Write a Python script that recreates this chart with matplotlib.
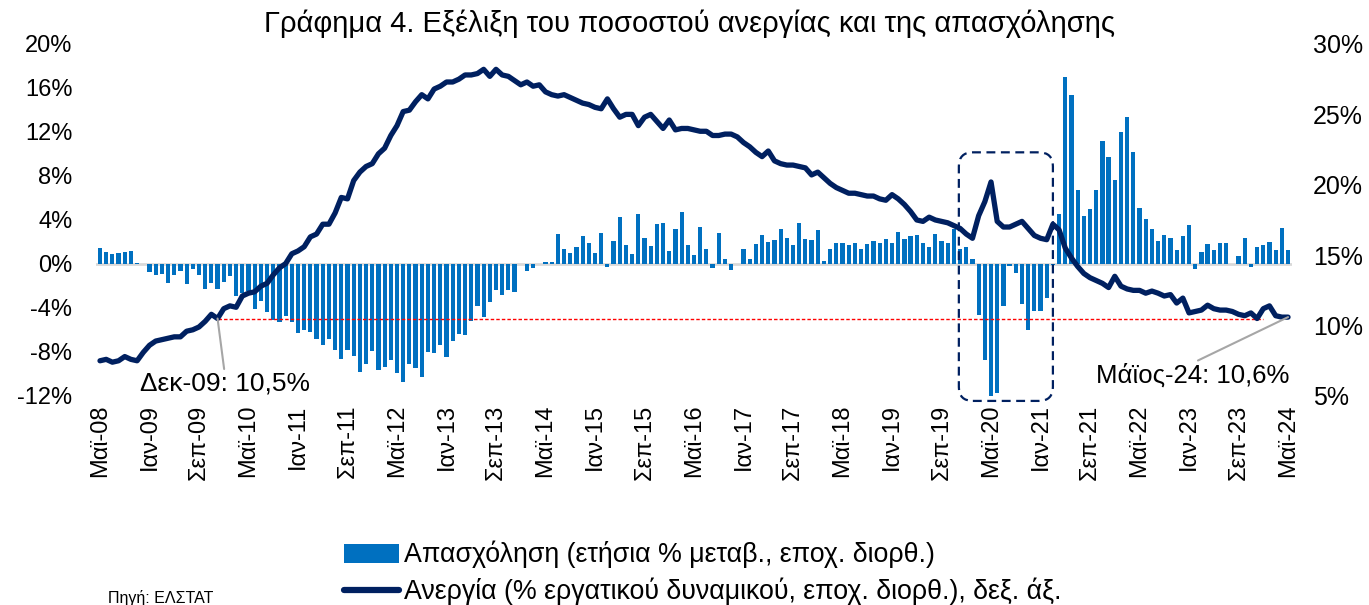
import numpy as np
import matplotlib.pyplot as plt
from matplotlib.patches import Patch, FancyBboxPatch
from matplotlib.lines import Line2D
from matplotlib.transforms import IdentityTransform

plt.rcParams['font.family'] = ['Liberation Sans', 'DejaVu Sans']

# μηνιαία στοιχεία Μάιος 2008 - Μάιος 2024
tick_labels = ['Μαϊ-08', 'Ιαν-09', 'Σεπ-09', 'Μαϊ-10', 'Ιαν-11', 'Σεπ-11', 'Μαϊ-12',
               'Ιαν-13', 'Σεπ-13', 'Μαϊ-14', 'Ιαν-15', 'Σεπ-15', 'Μαϊ-16', 'Ιαν-17',
               'Σεπ-17', 'Μαϊ-18', 'Ιαν-19', 'Σεπ-19', 'Μαϊ-20', 'Ιαν-21', 'Σεπ-21',
               'Μαϊ-22', 'Ιαν-23', 'Σεπ-23', 'Μαϊ-24']

# απασχόληση, ετήσια % μεταβολή (αριστερός άξονας)
employment = [1.45, 1.06, 0.94, 1.0, 1.06, 1.15, 0.12, 0.0, -0.75, -1.0, -0.9, -1.7,
              -1.0, -0.6, -1.8, -0.45, -1.0, -2.3, -1.7, -2.3, -1.6, -1.1, -2.9, -2.6,
              -2.5, -4.1, -3.4, -4.35, -5.05, -5.26, -4.7, -5.3, -6.3, -6.0, -6.2, -6.8,
              -7.4, -6.8, -7.8, -8.6, -7.8, -8.4, -9.8, -9.1, -7.9, -9.6, -9.4, -8.7,
              -9.95, -10.75, -9.07, -9.5, -10.3, -8.0, -8.1, -7.4, -8.5, -7.0, -6.35, -6.5,
              -5.2, -3.8, -4.8, -3.45, -2.4, -2.8, -2.4, -2.55, 0.0, -0.65, -0.4, 0.0,
              0.18, 0.18, 2.7, 1.36, 1.03, 1.5, 2.54, 1.9, 1.03, 2.8, -0.24, 2.1,
              4.3, 1.72, 0.9, 4.5, 2.33, 1.63, 3.6, 3.7, 1.15, 3.15, 4.75, 1.72,
              0.8, 3.4, 1.36, -0.33, 2.8, 0.45, -0.55, 0.0, 1.36, 0.45, 1.8, 2.6,
              1.96, 2.2, 3.2, 2.4, 1.72, 3.7, 2.3, 2.2, 3.1, 0.3, 1.36, 1.9,
              1.93, 1.72, 1.93, 1.36, 1.8, 2.05, 1.93, 2.3, 1.93, 2.87, 2.27, 2.5,
              2.63, 1.93, 1.5, 2.75, 2.05, 1.93, 3.15, 1.36, 1.5, 0.42, -4.6, -8.7,
              -12.0, -11.7, -3.85, -0.2, -0.8, -3.6, -6.0, -4.3, -4.25, -3.1, -0.1, 4.56,
              17.0, 15.4, 6.7, 4.35, 4.96, 6.7, 11.2, 9.7, 7.6, 12.0, 13.4, 10.2,
              5.05, 4.1, 3.17, 2.05, 2.6, 2.4, 1.3, 2.54, 3.5, -0.45, 1.13, 1.8,
              1.3, 1.93, 1.87, 0.0, 0.75, 2.4, -0.3, 1.5, 1.72, 1.96, 1.3, 3.3,
              1.3]

# ανεργία, % εργατικού δυναμικού (δεξιός άξονας)
unemployment = [7.5, 7.6, 7.4, 7.5, 7.8, 7.6, 7.5, 8.1, 8.6, 8.9, 9.0, 9.1,
                9.2, 9.2, 9.6, 9.7, 9.9, 10.3, 10.8, 10.5, 11.2, 11.4, 11.3, 12.1,
                12.3, 12.4, 12.8, 13.0, 13.6, 14.1, 14.4, 15.1, 15.3, 15.6, 16.3, 16.5,
                17.2, 17.2, 18.0, 19.1, 19.0, 20.3, 20.9, 21.3, 21.5, 22.2, 22.6, 23.5,
                24.2, 25.2, 25.3, 25.9, 26.4, 26.1, 26.8, 27.0, 27.3, 27.3, 27.5, 27.8,
                27.8, 27.9, 28.2, 27.7, 28.2, 27.8, 27.7, 27.4, 27.1, 27.3, 27.0, 27.1,
                26.6, 26.4, 26.3, 26.4, 26.2, 26.0, 25.8, 25.7, 25.5, 25.4, 26.1, 25.4,
                24.8, 25.0, 25.0, 24.2, 24.8, 25.0, 24.5, 24.0, 24.6, 23.9, 24.0, 24.0,
                23.9, 23.8, 23.8, 23.5, 23.5, 23.6, 23.6, 23.4, 23.0, 22.7, 22.3, 22.0,
                22.4, 21.7, 21.5, 21.4, 21.4, 21.3, 21.2, 20.7, 20.9, 20.5, 20.1, 19.8,
                19.6, 19.4, 19.4, 19.3, 19.2, 19.2, 19.0, 18.9, 19.3, 19.0, 18.6, 18.1,
                17.5, 17.4, 17.7, 17.5, 17.4, 17.3, 17.1, 16.9, 16.5, 16.2, 17.8, 18.8,
                20.2, 17.4, 17.0, 17.0, 17.2, 17.4, 16.9, 16.4, 16.2, 16.1, 17.2, 16.8,
                15.5, 14.8, 14.2, 13.7, 13.4, 13.2, 13.0, 12.7, 13.5, 12.8, 12.6, 12.5,
                12.5, 12.3, 12.45, 12.3, 12.1, 12.2, 11.6, 11.95, 10.9, 11.0, 11.1, 11.45,
                11.2, 11.1, 11.1, 11.0, 10.8, 10.7, 10.9, 10.5, 11.2, 11.4, 10.7, 10.6,
                10.6]

i_dec09 = 19      # Δεκ-09
i_ref_end = 188   # τέλος κόκκινης γραμμής
covid_box = (138.8, 154.0, -12.45, 10.15)  # x0, x1, y0, y1 στον αριστερό άξονα

blue = '#0070C0'
navy = '#002060'

n = len(unemployment)
x = np.arange(n)

fig = plt.figure(figsize=(13.69, 6.05), dpi=100)
ax = fig.add_axes([0.0701, 0.3455, 0.8737, 0.5818])
ax2 = ax.twinx()

ax.bar(x, employment, width=0.68, color=blue, zorder=2)
ax.axhline(0, color='#D9D9D9', lw=2, zorder=1)
ax.set_ylim(-12, 20)
ax.set_yticks(range(-12, 21, 4))
ax.set_yticklabels([f'{v}%' for v in range(-12, 21, 4)])
ax.set_xlim(-0.65, n - 1 + 0.65)
ax.set_xticks(x[::8])
ax.set_xticklabels(tick_labels, rotation=90)
ax.tick_params(axis='x', length=0, pad=6, labelsize=17)
ax.tick_params(axis='y', length=0, pad=17, labelsize=17)

ax2.plot(x, unemployment, color=navy, lw=3.8, solid_joinstyle='round',
         solid_capstyle='round', zorder=3)
ax2.hlines(unemployment[i_dec09], i_dec09, i_ref_end, colors='#FF0000', lw=1,
           linestyles=(0, (2.5, 1.5)), zorder=2)
ax2.set_ylim(5, 30)
ax2.set_yticks(range(5, 31, 5))
ax2.set_yticklabels([f'{v}%' for v in range(5, 31, 5)])
ax2.tick_params(axis='y', length=0, pad=15, labelsize=18)

for a in (ax, ax2):
    for s in a.spines.values():
        s.set_visible(False)

# σχόλια
ax2.annotate('Δεκ-09: 10,5%', xy=(i_dec09, unemployment[i_dec09]), xytext=(5, -47),
             textcoords='offset points', ha='center', va='center', fontsize=19,
             arrowprops=dict(arrowstyle='-', color='#A6A6A6', lw=1.5, relpos=(0.5, 1),
                             shrinkA=0, shrinkB=0))
ax2.annotate('Μάϊος-24: 10,6%', xy=(n - 1, unemployment[-1]), xytext=(-69, -42),
             textcoords='offset points', ha='center', va='center', fontsize=18.5,
             arrowprops=dict(arrowstyle='-', color='#A6A6A6', lw=1.5, relpos=(0.5, 1),
                             shrinkA=0, shrinkB=0))

# πλαίσιο πανδημίας
p0 = ax.transData.transform((covid_box[0], covid_box[2]))
p1 = ax.transData.transform((covid_box[1], covid_box[3]))
box = FancyBboxPatch((p0[0], p0[1]), p1[0] - p0[0], p1[1] - p0[1],
                     boxstyle='round,pad=0,rounding_size=14', transform=IdentityTransform(),
                     fill=False, ec=navy, lw=1.6, ls=(0, (4, 2.5)), clip_on=False, zorder=5)
fig.add_artist(box)

fig.suptitle('Γράφημα 4. Εξέλιξη του ποσοστού ανεργίας και της απασχόλησης',
             x=0.504, y=0.985, fontsize=21)

handles = [Patch(facecolor=blue), Line2D([], [], color=navy, lw=4.5, solid_capstyle='round')]
fig.legend(handles, ['Απασχόληση (ετήσια % μεταβ., εποχ. διορθ.)',
                     'Ανεργία (% εργατικού δυναμικού, εποχ. διορθ.), δεξ. άξ.'],
           loc='upper left', bbox_to_anchor=(344 / 1369, 1 - 541 / 605), frameon=False,
           fontsize=19.3, handlelength=2.05, handletextpad=0.2, labelspacing=0.35,
           borderaxespad=0, borderpad=0)

fig.text(108 / 1369, 1 - 590 / 605, 'Πηγή: ΕΛΣΤΑΤ', fontsize=11.5, va='top')

fig.savefig('out.png', dpi=100)
